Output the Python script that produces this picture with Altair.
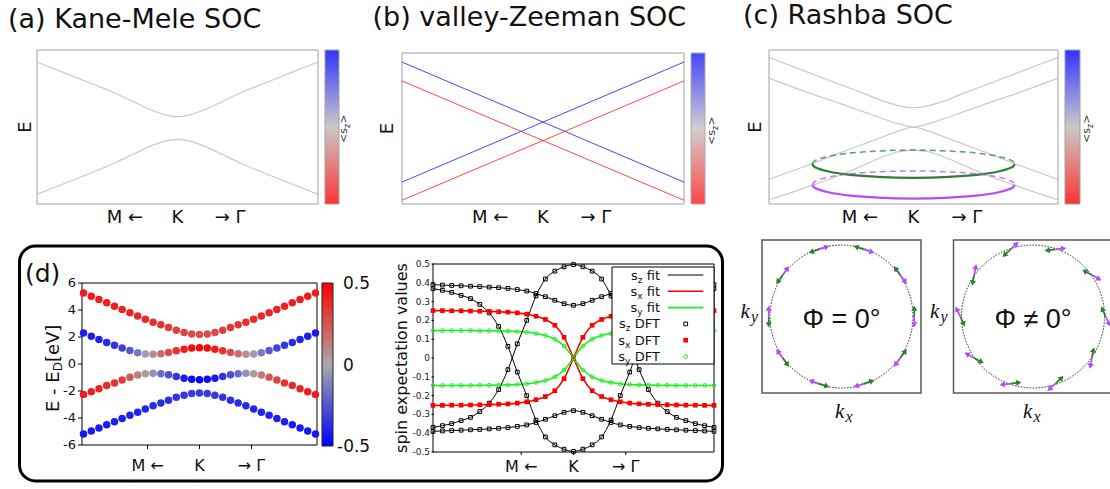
import altair as alt
import pandas as pd

W, H = 1110, 489
SANS = "DejaVu Sans"
SERIF = "Liberation Serif"
SYMBOL = "Liberation Sans"
INK = "#111111"
GREEN = "#2f7d32"
PURPLE = "#b44cf6"
LIME = "#1ef01e"

# DejaVu Sans advance widths (em), used to chain subscripted labels
ADV = {"s": 0.521, "x": 0.592, "y": 0.592, "z": 0.525, "D": 0.770, "F": 0.575, "T": 0.611,
       "f": 0.352, "i": 0.278, "t": 0.392, " ": 0.318, "<": 0.838, ">": 0.838, "E": 0.632,
       "-": 0.361, "[": 0.390, "]": 0.390, "e": 0.615, "V": 0.684}


def width(s, size):
    return sum(ADV.get(c, 0.6) for c in s) * size


# ------------------------------------------------------------------ data
K_TICK_TEXT = ["M \u2190", "K", "\u2192 \u0393"]

# (a) Kane-Mele SOC: spin-degenerate gapped cone around K
KM_K = [-1.0, -0.8, -0.6, -0.45, -0.3, -0.2, -0.1, 0.0, 0.1, 0.2, 0.3, 0.45, 0.6, 0.8, 1.0]
KM_UPPER = [0.845, 0.70, 0.555, 0.445, 0.315, 0.23, 0.165, 0.135, 0.165, 0.23, 0.315, 0.445, 0.555, 0.70, 0.845]
KM_LOWER = [-0.875, -0.73, -0.585, -0.47, -0.34, -0.255, -0.19, -0.16, -0.19, -0.255, -0.34, -0.47, -0.585, -0.73, -0.875]
KM_SZ = [0.0, 0.0]

# (b) valley-Zeeman SOC: spin-split linear bands
VZ_K = [-1.0, 1.0]
VZ_UP_FALLING = [0.88, -0.71]
VZ_UP_RISING = [-0.71, 0.88]
VZ_DOWN_FALLING = [0.63, -0.95]
VZ_DOWN_RISING = [-0.95, 0.63]
VZ_SZ = [0.5, 0.5, -0.5, -0.5]

# (c) Rashba SOC: four in-plane polarised bands
RB_K = [-1.0, -0.75, -0.5, -0.35, -0.2, -0.1, 0.0, 0.1, 0.2, 0.35, 0.5, 0.75, 1.0]
RB_E1 = [0.905, 0.725, 0.545, 0.44, 0.33, 0.275, 0.25, 0.275, 0.33, 0.44, 0.545, 0.725, 0.905]
RB_E2 = [0.635, 0.46, 0.30, 0.20, 0.10, 0.04, 0.0, 0.04, 0.10, 0.20, 0.30, 0.46, 0.635]
RB_E3 = [-0.68, -0.51, -0.33, -0.225, -0.12, -0.05, 0.0, -0.05, -0.12, -0.225, -0.33, -0.51, -0.68]
RB_E4 = [-0.945, -0.79, -0.62, -0.50, -0.38, -0.32, -0.30, -0.32, -0.38, -0.50, -0.62, -0.79, -0.945]
RB_SZ = [0.0, 0.0, 0.0, 0.0]

# Fermi contours drawn in perspective below the bands
FS_K = [-0.70, -0.69, -0.66, -0.58, -0.45, -0.25, 0.0, 0.25, 0.45, 0.58, 0.66, 0.69, 0.70]
FS_GREEN_FRONT = [-0.48, -0.511, -0.539, -0.581, -0.619, -0.647, -0.66, -0.647, -0.619, -0.581, -0.539, -0.511, -0.48]
FS_GREEN_BACK = [-0.48, -0.449, -0.421, -0.379, -0.341, -0.313, -0.30, -0.313, -0.341, -0.379, -0.421, -0.449, -0.48]
FS_PURPLE_FRONT = [-0.75, -0.781, -0.809, -0.851, -0.889, -0.917, -0.93, -0.917, -0.889, -0.851, -0.809, -0.781, -0.75]
FS_PURPLE_BACK = [-0.75, -0.719, -0.691, -0.649, -0.611, -0.583, -0.57, -0.583, -0.611, -0.649, -0.691, -0.719, -0.75]

# (d) DFT bands (M <- K -> Gamma), half path from the edge to K
DFT_K_HALF = [-1.0, -0.933, -0.867, -0.8, -0.733, -0.667, -0.6, -0.533, -0.467, -0.4,
              -0.333, -0.267, -0.2, -0.133, -0.067, 0.0]
BAND1_E = [5.26, 5.02, 4.78, 4.53, 4.28, 4.03, 3.79, 3.55, 3.32, 3.10, 2.90, 2.70, 2.50, 2.34, 2.22, 2.18]
BAND2_E = [2.30, 2.06, 1.82, 1.60, 1.39, 1.19, 1.00, 0.84, 0.74, 0.72, 0.76, 0.86, 0.99, 1.10, 1.18, 1.21]
BAND3_E = [-2.25, -2.05, -1.84, -1.60, -1.40, -1.18, -0.98, -0.82, -0.73, -0.69, -0.72, -0.80, -0.93, -1.05, -1.13, -1.16]
BAND4_E = [-5.19, -4.97, -4.74, -4.50, -4.28, -4.04, -3.80, -3.57, -3.33, -3.10, -2.89, -2.68, -2.47, -2.31, -2.19, -2.15]
BAND1_SZ = [0.42, 0.42, 0.42, 0.41, 0.41, 0.40, 0.40, 0.39, 0.38, 0.37, 0.35, 0.33, 0.31, 0.29, 0.27, 0.26]
BAND2_SZ = [-0.42, -0.41, -0.40, -0.38, -0.35, -0.31, -0.24, -0.14, -0.03, 0.08, 0.18, 0.27, 0.35, 0.42, 0.47, 0.49]
BAND3_SZ = [0.42, 0.41, 0.40, 0.38, 0.35, 0.31, 0.24, 0.14, 0.04, -0.07, -0.18, -0.27, -0.35, -0.42, -0.47, -0.49]
BAND4_SZ = [-0.43, -0.43, -0.42, -0.42, -0.41, -0.41, -0.40, -0.40, -0.39, -0.38, -0.37, -0.36, -0.35, -0.34, -0.33, -0.33]
ENERGY_TICKS = [-6, -4, -2, 0, 2, 4, 6]
ENERGY_TICK_TEXT = ["-6", "-4", "-2", "0", "2", "4", "6"]
CBAR_TICKS = [0.5, 0.0, -0.5]
CBAR_TICK_TEXT = ["0.5", "0", "-0.5"]

# (d) spin expectation values, half path from the edge to K
SZ_OUTER = [0.390, 0.388, 0.386, 0.384, 0.382, 0.380, 0.377, 0.374, 0.370, 0.364, 0.356, 0.343, 0.326, 0.307, 0.289, 0.280]
SZ_CROSS = [0.369, 0.360, 0.349, 0.333, 0.316, 0.285, 0.240, 0.168, 0.062, -0.075, -0.200, -0.330, -0.420, -0.462, -0.485, -0.497]
SX_HALF = [0.252, 0.252, 0.251, 0.251, 0.250, 0.249, 0.248, 0.246, 0.244, 0.240, 0.233, 0.222, 0.205, 0.174, 0.110, 0.0]
SY_HALF = [0.146, 0.146, 0.146, 0.146, 0.146, 0.145, 0.145, 0.144, 0.143, 0.141, 0.137, 0.130, 0.120, 0.100, 0.064, 0.0]
SPIN_TICKS = [-0.5, -0.4, -0.3, -0.2, -0.1, 0, 0.1, 0.2, 0.3, 0.4, 0.5]
SPIN_TICK_TEXT = ["-0.5", "-0.4", "-0.3", "-0.2", "-0.1", "0", "0.1", "0.2", "0.3", "0.4", "0.5"]

# spin textures on a circular Fermi contour
ARROW_THETA = [0, 36, 72, 108, 144, 180, 216, 252, 288, 324]
PHI_ZERO = 0
PHI_TILT = 25


def mirror(half, sign=1):
    return list(half) + [sign * v for v in half[-2::-1]]


ONE = pd.DataFrame({"x": [0.0], "y": [0.0]})

km_df = pd.DataFrame(
    [{"k": k, "E": e, "band": name, "sz": sz}
     for name, E, sz in (("upper", KM_UPPER, KM_SZ[0]), ("lower", KM_LOWER, KM_SZ[1]))
     for k, e in zip(KM_K, E)])
vz_df = pd.DataFrame(
    [{"k": k, "E": e, "band": name, "sz": sz}
     for name, E, sz in zip(("uf", "ur", "df", "dr"),
                            (VZ_UP_FALLING, VZ_UP_RISING, VZ_DOWN_FALLING, VZ_DOWN_RISING), VZ_SZ)
     for k, e in zip(VZ_K, E)])
rb_df = pd.DataFrame(
    [{"k": k, "E": e, "band": name, "sz": sz}
     for name, E, sz in zip(("e1", "e2", "e3", "e4"), (RB_E1, RB_E2, RB_E3, RB_E4), RB_SZ)
     for k, e in zip(RB_K, E)])

K_FULL = mirror(DFT_K_HALF, -1)
dl_df = pd.DataFrame(
    [{"k": k, "E": e, "sz": s, "band": name}
     for name, E, S in (("b1", BAND1_E, BAND1_SZ), ("b2", BAND2_E, BAND2_SZ),
                        ("b3", BAND3_E, BAND3_SZ), ("b4", BAND4_E, BAND4_SZ))
     for k, e, s in zip(K_FULL, mirror(E), mirror(S))])

spin_curves = [
    ("sz_outer_p", "sz", mirror(SZ_OUTER)),
    ("sz_outer_m", "sz", [-v for v in mirror(SZ_OUTER)]),
    ("sz_cross_p", "sz", mirror(SZ_CROSS)),
    ("sz_cross_m", "sz", [-v for v in mirror(SZ_CROSS)]),
    ("sx_p", "sx", mirror(SX_HALF, -1)),
    ("sx_m", "sx", [-v for v in mirror(SX_HALF, -1)]),
    ("sy_p", "sy", mirror(SY_HALF, -1)),
    ("sy_m", "sy", [-v for v in mirror(SY_HALF, -1)]),
]
dr_df = pd.DataFrame(
    [{"k": k, "v": v, "curve": name, "comp": comp}
     for name, comp, vals in spin_curves for k, v in zip(K_FULL, vals)])

ARROW_DF = pd.DataFrame({"theta": ARROW_THETA})

# ------------------------------------------------------------------ helpers
TOP_SCALE = alt.Scale(domain=[-0.5, 0, 0.5], range=["#ff0000", "#bdbdbd", "#0000ff"], interpolate="rgb")
D_SCALE = alt.Scale(domain=[-0.5, 0, 0.5], range=["#0000ff", "#a9a9a9", "#ff0000"], interpolate="rgb")


def lin(domain, rng):
    return alt.Scale(domain=domain, range=rng, nice=False, zero=False)


def text(s, x, y, size, font=SANS, align="left", baseline="alphabetic", color=INK, **kw):
    return alt.Chart(ONE).mark_text(font=font, fontSize=size, align=align, baseline=baseline,
                                    color=color, **kw).encode(
        x=alt.value(x), y=alt.value(y), text=alt.value(s))


def frame(xsc, ysc, xd, yd, stroke, sw):
    df = pd.DataFrame({"x0": [xd[0]], "x1": [xd[1]], "y0": [yd[0]], "y1": [yd[1]]})
    return alt.Chart(df).mark_rect(fillOpacity=0, stroke=stroke, strokeWidth=sw).encode(
        x=alt.X("x0:Q", scale=xsc, axis=None), x2="x1",
        y=alt.Y("y0:Q", scale=ysc, axis=None), y2="y1")


def x_ticks(xsc, values, y_axis, tick, baseline, size):
    """k-path tick labels (and optional tick marks) below a panel, placed by its x scale."""
    df = pd.DataFrame({"k": values, "label": K_TICK_TEXT})
    x = alt.X("k:Q", scale=xsc, axis=None)
    out = [alt.Chart(df).mark_text(font=SANS, fontSize=size, color=INK, align="center",
                                   baseline="alphabetic").encode(x=x, y=alt.value(baseline), text="label:N")]
    if tick:
        out.append(alt.Chart(df).mark_rule(color="#000000", strokeWidth=1).encode(
            x=x, y=alt.value(y_axis), y2=alt.value(y_axis + tick)))
    return out


def y_ticks(ysc, values, labels, x_axis, tick, pad, size, color=INK):
    df = pd.DataFrame({"v": values, "label": labels})
    y = alt.Y("v:Q", scale=ysc, axis=None)
    return [
        alt.Chart(df).mark_rule(color="#000000", strokeWidth=1).encode(
            y=y, x=alt.value(x_axis - tick), x2=alt.value(x_axis)),
        alt.Chart(df).mark_text(font=SANS, fontSize=size, color=color, align="right",
                                baseline="middle").encode(
            y=y, x=alt.value(x_axis - tick - pad), text="label:N"),
    ]


def colorbar_title(xc, y0):
    """<s_z>, written bottom to top beside a colour bar."""
    w1 = width("<s", 11)
    return [
        text("<s", xc, y0, 11, angle=270, baseline="middle", color="#333333"),
        text("z", xc + 3.5, y0 - w1, 8, angle=270, baseline="middle", color="#333333"),
        text(">", xc, y0 - w1 - width("z", 8), 11, angle=270, baseline="middle", color="#333333"),
    ]


def band_panel(df, px, py, cbar, ticks, sw, opacity, extra=()):
    xsc = lin([-1, 1], list(px))
    ysc = lin([-1, 1], [py[1], py[0]])
    bands = alt.Chart(df).mark_line(strokeWidth=sw, interpolate="monotone", opacity=opacity).encode(
        x=alt.X("k:Q", scale=xsc, axis=None),
        y=alt.Y("E:Q", scale=ysc, axis=None),
        color=alt.Color("sz:Q", scale=TOP_SCALE, legend=alt.Legend(
            orient="none", legendX=cbar[0], legendY=cbar[1], direction="vertical", title=None,
            labelExpr="''", labelOpacity=0, gradientLength=cbar[2], gradientThickness=cbar[3],
            gradientStrokeColor="#8a8a8a", gradientStrokeWidth=1, padding=0)),
        detail="band:N")
    layers = [frame(xsc, ysc, [-1, 1], [-1, 1], "#a0a0a0", 1), bands]
    layers += [make(xsc, ysc) for make in extra]
    layers += x_ticks(xsc, ticks, py[1], 0, 223.3, 18)
    return alt.layer(*layers)


def contour(ys, color, dashed):
    def make(xsc, ysc):
        df = pd.DataFrame({"k": FS_K, "E": ys})
        style = dict(strokeWidth=1.5, strokeDash=[6, 4], opacity=0.75) if dashed else dict(strokeWidth=2.2)
        return alt.Chart(df).mark_line(color=color, interpolate="monotone", **style).encode(
            x=alt.X("k:Q", scale=xsc, axis=None), y=alt.Y("E:Q", scale=ysc, axis=None))
    return make


ARROW = "M-0.08,0L-0.08,-0.52L-0.28,-0.52L0,-1L0.28,-0.52L0.08,-0.52L0.08,0Z"


def spin_panel(px, phi, label):
    xd, yd = [-1.093, 1.093], [-1.085, 1.085]
    xsc = lin(xd, list(px))
    ysc = lin(yd, [393, 240])
    enc = dict(x=alt.X("x:Q", scale=xsc, axis=None), y=alt.Y("y:Q", scale=ysc, axis=None))
    circle = alt.Chart(ONE).mark_point(shape="circle", size=20449, filled=False, opacity=1, color="#222222",
                                       strokeWidth=1, strokeDash=[1.5, 1.5]).encode(**enc)
    base = alt.Chart(ARROW_DF).transform_calculate(
        x="cos(datum.theta * PI / 180)", y="sin(datum.theta * PI / 180)",
        a_green=f"(720 - datum.theta - {phi}) % 360", a_purple=f"(900 - datum.theta - {phi}) % 360")
    green = base.mark_point(shape=ARROW, size=484, filled=True, opacity=1, color=GREEN).encode(
        angle=alt.Angle("a_green:Q", scale=None), **enc)
    purple = base.mark_point(shape=ARROW, size=484, filled=True, opacity=1, color=PURPLE).encode(
        angle=alt.Angle("a_purple:Q", scale=None), **enc)
    phi_text = alt.Chart(ONE).mark_text(font=SYMBOL, fontSize=27, color=INK, align="center",
                                        baseline="middle", dy=3).encode(text=alt.value(label), **enc)
    return alt.layer(frame(xsc, ysc, xd, yd, "#5a5a5a", 1.5), circle, green, purple, phi_text)


def k_label(x, y, sub):
    return [text("k", x, y, 21, font=SERIF, fontStyle="italic"),
            text(sub, x + 10.5, y + 3.5, 16, font=SERIF, fontStyle="italic")]


# ------------------------------------------------------------------ panels
layers = []

# rounded frame around panel (d)
layers.append(alt.Chart(ONE).mark_rect(cornerRadius=16, fillOpacity=0, stroke="#000000", strokeWidth=3).encode(
    x=alt.value(19.5), x2=alt.value(722.5), y=alt.value(246), y2=alt.value(481)))

layers.append(band_panel(km_df, (37, 318), (50, 204), (325, 50, 154, 14), [-0.375, 0, 0.375], 1.2, 0.8))
layers.append(band_panel(vz_df, (402, 684), (53, 204), (691, 53, 151, 14), [-0.375, 0, 0.375], 1.0, 0.72))
layers.append(band_panel(rb_df, (769, 1058), (50, 204), (1065, 50, 154, 15), [-0.37, 0, 0.37], 1.2, 0.8,
                         extra=(contour(FS_GREEN_BACK, GREEN, True), contour(FS_GREEN_FRONT, GREEN, False),
                                contour(FS_PURPLE_BACK, PURPLE, True), contour(FS_PURPLE_FRONT, PURPLE, False))))

layers.append(text("(a) Kane-Mele SOC", 8, 28.3, 27))
layers.append(text("(b) valley-Zeeman SOC", 372.5, 25.8, 27))
layers.append(text("(c) Rashba SOC", 743, 23.5, 27))
for xc, yc in ((25, 127), (386.5, 128.5), (754.5, 127)):
    layers.append(text("E", xc + 1.2, yc, 18, angle=270, align="center", baseline="middle"))
layers += colorbar_title(344, 143) + colorbar_title(712, 145) + colorbar_title(1087, 143)

# (d) left: DFT bands coloured by <s_z>
dl_x = lin([-1.013, 1.013], [82, 317])
dl_y = lin([-6, 6], [445, 283])
dl_points = alt.Chart(dl_df).mark_circle(size=56, opacity=1).encode(
    x=alt.X("k:Q", scale=dl_x, axis=None),
    y=alt.Y("E:Q", scale=dl_y, axis=None),
    color=alt.Color("sz:Q", scale=D_SCALE, legend=alt.Legend(
        orient="none", legendX=322, legendY=283, direction="vertical", title=None,
        labelExpr="''", labelOpacity=0, gradientLength=163, gradientThickness=11,
        gradientStrokeColor="#222222", gradientStrokeWidth=1, padding=0)))
dl_zero = alt.Chart(ONE).mark_rule(strokeDash=[2, 2], color="#333333", strokeWidth=1).encode(
    x=alt.value(322), x2=alt.value(333), y=alt.Y("y:Q", scale=dl_y, axis=None))
layers.append(alt.layer(frame(dl_x, dl_y, [-1.013, 1.013], [-6, 6], "#000000", 1), dl_points, dl_zero,
                        *x_ticks(dl_x, [-0.448, 0, 0.448], 445, 4, 470.5, 16),
                        *y_ticks(dl_y, ENERGY_TICKS, ENERGY_TICK_TEXT, 82, 4, 2, 13)))

# colour-bar tick labels, placed along the bar (0.5 at the top, -0.5 at the bottom)
cbar_y = lin([-0.5, 0.5], [446, 283])
cbar_df = pd.DataFrame({"v": CBAR_TICKS, "label": CBAR_TICK_TEXT})
cbar_labels = alt.Chart(cbar_df).mark_text(font=SANS, fontSize=17, color=INK, align="left",
                                           baseline="middle", dy=1)
layers.append(alt.layer(
    cbar_labels.transform_filter("datum.v >= 0").encode(
        y=alt.Y("v:Q", scale=cbar_y, axis=None), x=alt.value(343), text="label:N"),
    cbar_labels.transform_filter("datum.v < 0").encode(
        y=alt.Y("v:Q", scale=cbar_y, axis=None), x=alt.value(337), text="label:N")))

# y title E - E_D [eV], written bottom to top
w_e = width("E - E", 18)
layers += [text("E - E", 53.7, 412, 18, angle=270, baseline="middle"),
           text("D", 57.5, 412 - w_e, 12, angle=270, baseline="middle"),
           text(" [eV]", 53.7, 412 - w_e - width("D", 12), 18, angle=270, baseline="middle")]
layers.append(text("(d)", 25, 282, 25))

# (d) right: spin expectation values, fit lines and DFT points
dr_x = lin([-1, 1], [433, 714])
dr_y = lin([-0.5, 0.5], [452, 264])
dr_enc = dict(x=alt.X("k:Q", scale=dr_x, axis=None), y=alt.Y("v:Q", scale=dr_y, axis=None))
dr_black = alt.Chart(dr_df).transform_filter(alt.datum.comp == "sz").mark_line(
    color="#000000", strokeWidth=1, interpolate="monotone").encode(detail="curve:N", **dr_enc)
dr_red = alt.Chart(dr_df).transform_filter(alt.datum.comp == "sx").mark_line(
    color="#ff0000", strokeWidth=1.6, interpolate="monotone").encode(detail="curve:N", **dr_enc)
dr_green = alt.Chart(dr_df).transform_filter(alt.datum.comp == "sy").mark_line(
    color=LIME, strokeWidth=1.6, interpolate="monotone").encode(detail="curve:N", **dr_enc)
dr_sq = alt.Chart(dr_df).transform_filter(alt.datum.comp == "sz").mark_point(
    shape="square", size=14, filled=False, strokeWidth=1, color="#000000", opacity=1).encode(**dr_enc)
dr_rsq = alt.Chart(dr_df).transform_filter(alt.datum.comp == "sx").mark_point(
    shape="square", size=22, filled=True, color="#ff0000", opacity=1).encode(**dr_enc)
dr_circ = alt.Chart(dr_df).transform_filter(alt.datum.comp == "sy").mark_point(
    shape="circle", size=14, filled=False, strokeWidth=1, color=LIME, opacity=1).encode(**dr_enc)
layers.append(alt.layer(frame(dr_x, dr_y, [-1, 1], [-0.5, 0.5], "#000000", 1),
                        dr_red, dr_green, dr_black, dr_sq, dr_rsq, dr_circ,
                        *x_ticks(dr_x, [-0.372, 0, 0.372], 452, 3, 472.3, 16),
                        *y_ticks(dr_y, SPIN_TICKS, SPIN_TICK_TEXT, 434, 2.5, 1.5, 9, color="#222222")))
layers.append(text("spin expectation values", 402, 358, 16, angle=270, align="center", baseline="middle"))

# legend of the spin panel
layers.append(alt.Chart(ONE).mark_rect(fill="#ffffff", stroke="#000000", strokeWidth=1).encode(
    x=alt.value(612), x2=alt.value(714), y=alt.value(267), y2=alt.value(364)))
legend_rows = [("z", "fit", "#000000"), ("x", "fit", "#ff0000"), ("y", "fit", LIME),
               ("z", "DFT", None), ("x", "DFT", None), ("y", "DFT", None)]
for i, (sub, word, line_color) in enumerate(legend_rows):
    b = 279.5 + 16.3 * i
    sub_right = 660 - width(word, 13) - width(" ", 13)
    layers += [text(word, 660, b, 13, align="right"),
               text(sub, sub_right, b + 3, 9, align="right"),
               text("s", sub_right - width(sub, 9), b, 13, align="right")]
    yc = b - 4.5
    if line_color:
        layers.append(alt.Chart(ONE).mark_rule(color=line_color, strokeWidth=1 if sub == "z" else 1.6).encode(
            x=alt.value(667.7), x2=alt.value(703.3), y=alt.value(yc)))
marker_styles = [dict(shape="square", size=14, filled=False, strokeWidth=1, color="#000000"),
                 dict(shape="square", size=22, filled=True, color="#ff0000"),
                 dict(shape="circle", size=14, filled=False, strokeWidth=1, color=LIME)]
for i, style in enumerate(marker_styles):
    layers.append(alt.Chart(ONE).mark_point(opacity=1, **style).encode(
        x=alt.value(685.7), y=alt.value(279.5 + 16.3 * (i + 3) - 4.5)))

# spin textures on the Fermi contour
layers.append(spin_panel((762, 921), PHI_ZERO, "\u03a6 = 0\u00b0"))
layers.append(spin_panel((953.5, 1112.5), PHI_TILT, "\u03a6 \u2260 0\u00b0"))
layers += k_label(835, 418.3, "x") + k_label(740.5, 318.3, "y")
layers += k_label(930, 318.3, "y") + k_label(1023, 418.3, "x")

chart = alt.layer(*layers).resolve_scale(
    x="independent", y="independent", color="independent"
).properties(
    width=W, height=H, padding=0, autosize=alt.AutoSizeParams(type="none")
).configure_view(stroke="transparent")

chart.save("out.html", embed_options={"renderer": "svg", "actions": False})
